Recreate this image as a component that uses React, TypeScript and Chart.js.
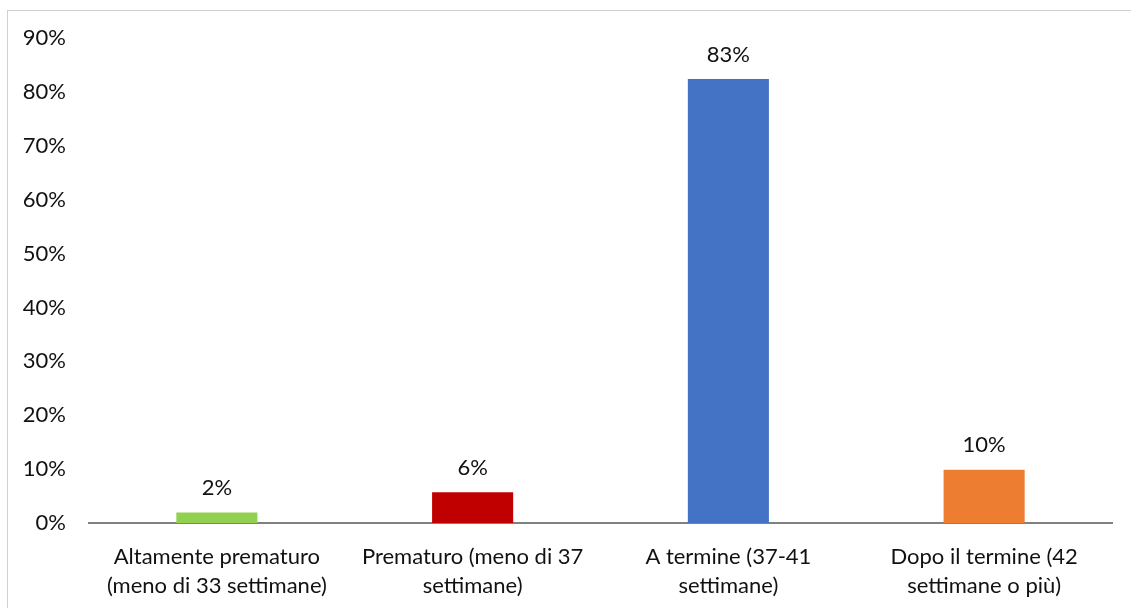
import React, { useEffect, useRef } from "react";
import { Chart, registerables } from "chart.js";

Chart.register(...registerables);

const categories: string[][] = [
  ["Altamente prematuro", "(meno di 33 settimane)"],
  ["Prematuro (meno di 37", "settimane)"],
  ["A termine (37-41", "settimane)"],
  ["Dopo il termine (42", "settimane o più)"],
];
const values: number[] = [1.96, 5.7, 82.4, 9.9];
const valueLabels: string[] = ["2%", "6%", "83%", "10%"];
const barColors: string[] = ["#92d050", "#c00000", "#4472c4", "#ed7d31"];
const yMax = 90;
const yStep = 10;

const FONT = "Lato, 'Liberation Sans', sans-serif";
const TEXT = "#111111";

const dataLabelPlugin = {
  id: "dataLabels",
  afterDatasetsDraw(chart: any) {
    const ctx = chart.ctx;
    const meta = chart.getDatasetMeta(0);
    ctx.save();
    ctx.font = `22px ${FONT}`;
    ctx.fillStyle = TEXT;
    ctx.textAlign = "center";
    ctx.textBaseline = "middle";
    meta.data.forEach((bar: any, i: number) => {
      ctx.fillText(valueLabels[i], bar.x, bar.y - 24.5);
    });
    ctx.restore();
  },
};

export default function App() {
  const ref = useRef<HTMLCanvasElement | null>(null);
  useEffect(() => {
    if (!ref.current) return;
    const chart = new Chart(ref.current, {
      type: "bar",
      data: {
        labels: categories,
        datasets: [
          {
            data: values,
            backgroundColor: barColors,
            barPercentage: 0.317,
            categoryPercentage: 1,
          },
        ],
      },
      options: {
        animation: false,
        responsive: false,
        maintainAspectRatio: false,
        layout: { padding: { top: 38, right: 19, left: 0, bottom: 0 } },
        plugins: {
          legend: { display: false },
          tooltip: { enabled: false },
        },
        scales: {
          x: {
            grid: { display: false },
            border: { display: true, color: "#808080", width: 2 },
            ticks: {
              color: TEXT,
              font: { family: FONT, size: 22, lineHeight: 1.32 },
              padding: 11,
              maxRotation: 0,
              autoSkip: false,
            },
            afterFit: (scale: any) => {
              scale.height = 85;
            },
          },
          y: {
            min: 0,
            max: yMax,
            grid: { display: false },
            border: { display: false },
            ticks: {
              stepSize: yStep,
              color: TEXT,
              font: { family: FONT, size: 22 },
              padding: 15,
              callback: (v: any) => `${v}%`,
            },
            afterFit: (scale: any) => {
              scale.width = 89;
            },
          },
        },
      },
      plugins: [dataLabelPlugin],
    });
    return () => chart.destroy();
  }, []);

  return (
    <>
      <div
        style={{
          position: "fixed",
          left: 7,
          top: 10,
          width: 1130,
          height: 600,
          borderLeft: "1px solid #d0d0d0",
          borderTop: "1px solid #d0d0d0",
          boxSizing: "border-box",
        }}
      />
      <canvas
        ref={ref}
        width={1131}
        height={608}
        style={{ position: "fixed", left: 0, top: 0, width: 1131, height: 608 }}
      />
    </>
  );
}
